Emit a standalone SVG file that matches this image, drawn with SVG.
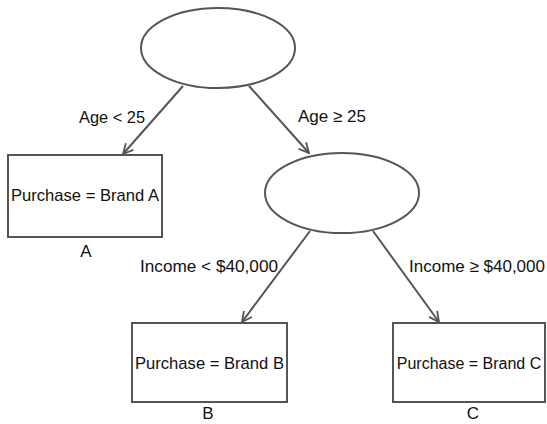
<svg xmlns="http://www.w3.org/2000/svg" width="547" height="424" viewBox="0 0 547 424">
<style>
.shape{fill:#fff;stroke:#555;stroke-width:2}
.edge{fill:none;stroke:#555;stroke-width:2}
text{font-family:"Liberation Sans","Open Sans",Arial,sans-serif;font-size:17px;fill:#111}
</style>
<defs>
<marker id="arr" viewBox="0 0 12 12" refX="11" refY="6" markerWidth="12" markerHeight="12" markerUnits="userSpaceOnUse" orient="auto">
<path d="M1,1 L11,6 L1,11" fill="none" stroke="#555" stroke-width="1.8"/>
</marker>
</defs>
<rect width="547" height="424" fill="#fff"/>
<g id="connectors">
<line class="edge" x1="183" y1="86" x2="123" y2="154" marker-end="url(#arr)"/>
<line class="edge" x1="249" y1="86" x2="309" y2="153" marker-end="url(#arr)"/>
<line class="edge" x1="310" y1="231" x2="242" y2="322" marker-end="url(#arr)"/>
<line class="edge" x1="373" y1="231" x2="439" y2="322" marker-end="url(#arr)"/>
<text x="79" y="123" textLength="66" lengthAdjust="spacingAndGlyphs">Age &lt; 25</text>
<text x="298" y="122" textLength="68" lengthAdjust="spacingAndGlyphs">Age ≥ 25</text>
<text x="140" y="272" textLength="138" lengthAdjust="spacingAndGlyphs">Income &lt; $40,000</text>
<text x="409" y="272" textLength="136" lengthAdjust="spacingAndGlyphs">Income ≥ $40,000</text>
</g>
<g id="root">
<ellipse class="shape" cx="218" cy="48" rx="77" ry="40"/>
</g>
<g id="node2">
<ellipse class="shape" cx="342" cy="193" rx="77" ry="40"/>
</g>
<g id="leafA">
<rect class="shape" x="8" y="155" width="154" height="82"/>
<text x="11" y="201" textLength="148" lengthAdjust="spacingAndGlyphs">Purchase = Brand A</text>
<text x="86" y="257" text-anchor="middle">A</text>
</g>
<g id="leafB">
<rect class="shape" x="132" y="323" width="155" height="79"/>
<text x="135" y="369" textLength="149" lengthAdjust="spacingAndGlyphs">Purchase = Brand B</text>
<text x="208" y="419" text-anchor="middle">B</text>
</g>
<g id="leafC">
<rect class="shape" x="393" y="323" width="152" height="79"/>
<text x="469" y="369" text-anchor="middle" style="font-size:16px">Purchase = Brand C</text>
<text x="473" y="419" text-anchor="middle">C</text>
</g>
</svg>
